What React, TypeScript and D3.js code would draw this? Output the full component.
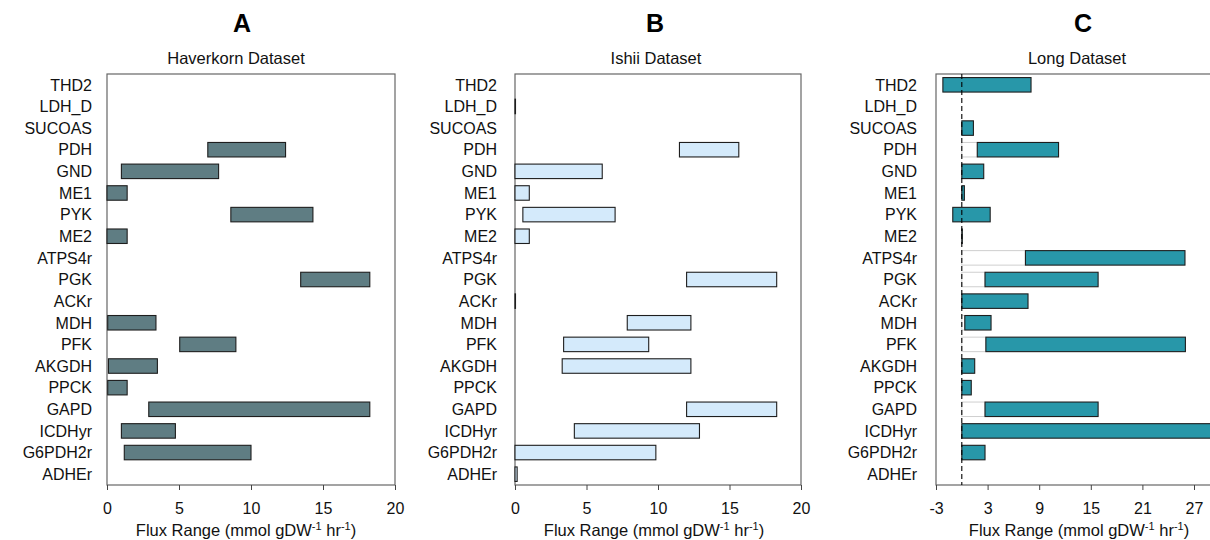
import React from 'react'
import * as d3 from 'd3'

const reactions = ['THD2', 'LDH_D', 'SUCOAS', 'PDH', 'GND', 'ME1', 'PYK', 'ME2', 'ATPS4r', 'PGK',
  'ACKr', 'MDH', 'PFK', 'AKGDH', 'PPCK', 'GAPD', 'ICDHyr', 'G6PDH2r', 'ADHEr']

// flux ranges (min / max), null = no range shown
const haverkornLo = [null, null, null, 7.0, 1.0, 0, 8.6, 0, null, 13.45, null, 0.05, 5.05, 0.1, 0.05, 2.9, 1.0, 1.2, null]
const haverkornHi = [null, null, null, 12.4, 7.75, 1.4, 14.3, 1.4, null, 18.25, null, 3.4, 8.95, 3.5, 1.4, 18.25, 4.75, 10.0, null]

const ishiiLo = [null, 0, null, 11.5, 0, 0, 0.55, 0, null, 12.0, 0, 7.85, 3.4, 3.3, null, 12.0, 4.15, 0, 0]
const ishiiHi = [null, 0.02, null, 15.65, 6.1, 1.0, 7.0, 1.0, null, 18.3, 0.03, 12.3, 9.35, 12.3, null, 18.3, 12.9, 9.85, 0.15]

const longLo = [-2.2, null, 0, 1.8, 0, 0, -1.05, 0, 7.4, 2.7, 0, 0.35, 2.8, 0, 0, 2.7, 0, 0, null]
const longHi = [8.05, null, 1.35, 11.25, 2.55, 0.3, 3.3, 0.05, 25.95, 15.85, 7.7, 3.4, 26.0, 1.5, 1.1, 15.85, 31, 2.7, null]

const ticksAB = [0, 5, 10, 15, 20]
const ticksC = [-3, 3, 9, 15, 21, 27]

const FONT = '"Liberation Sans", Arial, Helvetica, sans-serif'

type Panel = {
  letter: string
  title: string
  lo: (number | null)[]
  hi: (number | null)[]
  domain: [number, number]
  ticks: number[]
  x0: number; x1: number
  labelX: number
  titleX: number; letterX: number; axisTitleX: number
  fill: string
  zeroLine: boolean
}

const panels: Panel[] = [
  { letter: 'A', title: 'Haverkorn Dataset', lo: haverkornLo, hi: haverkornHi, domain: [0, 20], ticks: ticksAB,
    x0: 107, x1: 395, labelX: 92, titleX: 236, letterX: 242, axisTitleX: 246, fill: '#5f7d83', zeroLine: false },
  { letter: 'B', title: 'Ishii Dataset', lo: ishiiLo, hi: ishiiHi, domain: [0, 20], ticks: ticksAB,
    x0: 515, x1: 801, labelX: 497, titleX: 656, letterX: 655, axisTitleX: 654, fill: '#d4eafb', zeroLine: false },
  { letter: 'C', title: 'Long Dataset', lo: longLo, hi: longHi, domain: [-3, 31], ticks: ticksC,
    x0: 936, x1: 936 + 34 * 8.6, labelX: 917, titleX: 1077, letterX: 1083, axisTitleX: 1079, fill: '#2897a9', zeroLine: true },
]

const TOP = 74
const BOTTOM = 485

export default function App() {
  const ref = React.useRef<SVGSVGElement>(null)

  React.useEffect(() => {
    const svg = d3.select(ref.current!)
    svg.selectAll('*').remove()

    const y = d3.scaleBand<string>().domain(reactions).range([TOP, BOTTOM])
      .paddingInner(0.33).paddingOuter(0.165)

    panels.forEach(p => {
      const x = d3.scaleLinear().domain(p.domain).range([p.x0, p.x1])
      const g = svg.append('g').attr('font-family', FONT)

      // panel letter + dataset title
      g.append('text').attr('x', p.letterX).attr('y', 32).attr('text-anchor', 'middle')
        .attr('font-size', 25).attr('font-weight', 700).attr('fill', '#000').text(p.letter)
      g.append('text').attr('x', p.titleX).attr('y', 64).attr('text-anchor', 'middle')
        .attr('font-size', 16.5).attr('fill', '#111').text(p.title)

      // frame
      g.append('rect').attr('x', p.x0).attr('y', TOP).attr('width', p.x1 - p.x0).attr('height', BOTTOM - TOP)
        .attr('fill', 'none').attr('stroke', '#666').attr('stroke-width', 1.2)

      // ghost bars from 0 to the lower bound (Long dataset only)
      if (p.zeroLine) {
        reactions.forEach((r, i) => {
          const lo = p.lo[i]
          if (lo == null || lo <= 0) return
          g.append('rect').attr('x', x(0)).attr('y', y(r)!).attr('width', x(lo) - x(0)).attr('height', y.bandwidth())
            .attr('fill', '#fff').attr('stroke', '#cfcfcf').attr('stroke-width', 1)
        })
      }

      // range bars
      reactions.forEach((r, i) => {
        const lo = p.lo[i], hi = p.hi[i]
        if (lo == null || hi == null) return
        g.append('rect').attr('x', x(lo)).attr('y', y(r)!).attr('width', Math.max(0.5, x(hi) - x(lo)))
          .attr('height', y.bandwidth()).attr('fill', p.fill).attr('stroke', '#1e1e1e').attr('stroke-width', 1.1)
      })

      if (p.zeroLine) {
        g.append('line').attr('x1', x(0)).attr('x2', x(0)).attr('y1', TOP).attr('y2', BOTTOM)
          .attr('stroke', '#000').attr('stroke-width', 1.1).attr('stroke-dasharray', '5,3')
      }

      // reaction labels
      g.selectAll('text.rx').data(reactions).enter().append('text').attr('class', 'rx')
        .attr('x', p.labelX).attr('y', d => y(d)! + y.bandwidth() / 2).attr('dy', '0.36em')
        .attr('text-anchor', 'end').attr('font-size', 16).attr('fill', '#111').text(d => d)

      // x axis
      const ax = g.append('g').attr('transform', `translate(0,${BOTTOM})`)
        .call(d3.axisBottom(x).tickValues(p.ticks).tickSize(5).tickSizeOuter(0).tickFormat(d => String(d)))
      ax.select('.domain').remove()
      ax.selectAll('line').attr('stroke', '#444')
      ax.selectAll('text').attr('font-size', 16).attr('font-family', FONT).attr('fill', '#111').attr('dy', '1.3em')

      const t = g.append('text').attr('x', p.axisTitleX).attr('y', 536).attr('text-anchor', 'middle')
        .attr('font-size', 16.5).attr('fill', '#111')
      t.append('tspan').text('Flux Range (mmol gDW')
      t.append('tspan').attr('dy', -6).attr('font-size', 11).text('-1')
      t.append('tspan').attr('dy', 6).text(' hr')
      t.append('tspan').attr('dy', -6).attr('font-size', 11).text('-1')
      t.append('tspan').attr('dy', 6).text(')')
    })
  }, [])

  return (
    <svg ref={ref} width={1210} height={540}
      style={{ position: 'absolute', left: 0, top: 0, background: '#fff' }} />
  )
}
